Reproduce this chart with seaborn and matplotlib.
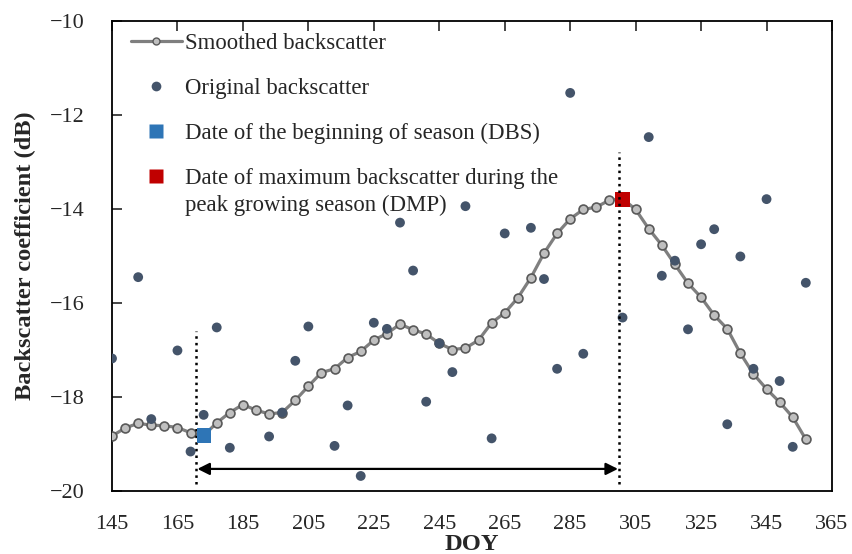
import numpy as np
import pandas as pd
import matplotlib
matplotlib.use("Agg")
import matplotlib.pyplot as plt
from matplotlib.lines import Line2D
import seaborn as sns

# ---------------- data ----------------
smooth_doy = list(range(145, 358, 4))
smooth_db = [-18.83, -18.66, -18.56, -18.60, -18.61, -18.65, -18.76, -18.82,
             -18.55, -18.33, -18.16, -18.28, -18.36, -18.33, -18.07, -17.77,
             -17.48, -17.40, -17.16, -17.03, -16.79, -16.65, -16.45, -16.57,
             -16.66, -16.86, -16.99, -16.96, -16.79, -16.42, -16.21, -15.89,
             -15.46, -14.94, -14.52, -14.21, -14.01, -13.96, -13.81, -13.78,
             -14.01, -14.42, -14.77, -15.18, -15.58, -15.88, -16.26, -16.55,
             -17.07, -17.51, -17.83, -18.11, -18.43, -18.90]

obs_doy = [145, 153, 157, 165, 169, 173, 177, 181, 193, 197, 201, 205, 213,
           217, 221, 225, 229, 233, 237, 241, 245, 249, 253, 261, 265, 273,
           277, 281, 285, 289, 301, 309, 313, 317, 321, 325, 329, 333, 337,
           341, 345, 349, 353, 357]
obs_db = [-17.18, -15.45, -18.47, -17.01, -19.16, -18.38, -16.52, -19.08,
          -18.84, -18.33, -17.23, -16.50, -19.04, -18.18, -19.68, -16.42,
          -16.55, -14.29, -15.31, -18.10, -16.86, -17.47, -13.94, -18.88,
          -14.52, -14.40, -15.49, -17.40, -11.53, -17.08, -16.31, -12.47,
          -15.42, -15.10, -16.56, -14.75, -14.43, -18.58, -15.01, -17.40,
          -13.79, -17.66, -19.06, -15.57]

dbs_doy, dbs_db = 173, -18.82
dmp_doy, dmp_db = 301, -13.80

# annotation lines (season start / peak markers)
dbs_line_doy = 170.8
dmp_line_doy = 299.9
dbs_line_top = -16.6
dmp_line_top = -12.78
line_bottom = -19.85
arrow_db = -19.53

x_ticks = list(range(145, 366, 20))
y_ticks = list(range(-20, -9, 2))

legend_labels = ["Smoothed backscatter", "Original backscatter",
                 "Date of the beginning of season (DBS)",
                 "Date of maximum backscatter during the"]
legend_extra_line = "peak growing season (DMP)"

# ---------------- style ----------------
sns.set_style("ticks")
plt.rcParams["font.family"] = ["Liberation Serif", "DejaVu Serif"]
plt.rcParams["axes.unicode_minus"] = True

c_line = "#7F7F7F"
c_mfill = "#BFBFBF"
c_medge = "#595959"
c_dot = "#44546A"
c_blue = "#2E75B6"
c_red = "#C00000"

fs = 16.4

fig = plt.figure(figsize=(8.53, 5.54), dpi=100)
ax = fig.add_axes([112 / 853, 1 - 491 / 554, 720 / 853, 470 / 554])

df_s = pd.DataFrame({"DOY": smooth_doy, "dB": smooth_db})
df_o = pd.DataFrame({"DOY": obs_doy, "dB": obs_db})

sns.lineplot(data=df_s, x="DOY", y="dB", ax=ax, color=c_line, lw=2.3,
             marker="o", markersize=6.4, markerfacecolor=c_mfill,
             markeredgecolor=c_medge, markeredgewidth=1.2, zorder=3)
sns.scatterplot(data=df_o, x="DOY", y="dB", ax=ax, color=c_dot, s=50,
                edgecolor="none", zorder=4)

# vertical dotted lines and arrow
ax.plot([dbs_line_doy, dbs_line_doy], [line_bottom, dbs_line_top], ls=":",
        color="black", lw=1.8, zorder=5)
ax.plot([dmp_line_doy, dmp_line_doy], [line_bottom, dmp_line_top], ls=":",
        color="black", lw=1.8, zorder=6)
ax.annotate("", xy=(dbs_line_doy + 0.3, arrow_db), xytext=(dmp_line_doy - 0.3, arrow_db),
            arrowprops=dict(arrowstyle="<|-|>", color="black", lw=1.6,
                            mutation_scale=18, shrinkA=0, shrinkB=0))

sns.scatterplot(x=[dbs_doy], y=[dbs_db], ax=ax, marker="s", s=105,
                color=c_blue, edgecolor="none", zorder=6)
sns.scatterplot(x=[dmp_doy], y=[dmp_db], ax=ax, marker="s", s=105,
                color=c_red, edgecolor="none", zorder=5)

ax.set_xlim(145, 365)
ax.set_ylim(-20, -10)
ax.set_xticks(x_ticks)
ax.set_yticks(y_ticks)
ax.tick_params(axis="x", bottom=False, top=True, direction="in", length=7,
               width=1.2, labelbottom=True, labeltop=False, labelsize=16, pad=17)
ax.tick_params(axis="y", left=True, right=False, direction="in", length=7,
               width=1.2, labelsize=16, pad=20)
for sp in ax.spines.values():
    sp.set_visible(True)
    sp.set_linewidth(1.3)
    sp.set_color("black")

ax.set_xlabel("DOY", fontsize=17.6, fontweight="bold")
ax.set_ylabel("Backscatter coefficient (dB)", fontsize=17.6, fontweight="bold")
ax.xaxis.set_label_coords(0.5, -0.092)
ax.yaxis.set_label_coords(-0.105, 0.5)

handles = [
    Line2D([], [], color=c_line, lw=2.3, marker="o", markersize=5,
           markerfacecolor=c_mfill, markeredgecolor=c_medge, markeredgewidth=1.0),
    Line2D([], [], ls="none", marker="o", markersize=7, color=c_dot,
           markeredgecolor="none"),
    Line2D([], [], ls="none", marker="s", markersize=10, color=c_blue,
           markeredgecolor="none"),
    Line2D([], [], ls="none", marker="s", markersize=10, color=c_red,
           markeredgecolor="none"),
]
ax.legend(handles, legend_labels, loc="upper left", bbox_to_anchor=(0.026, 0.9735),
          frameon=False, fontsize=fs, handlelength=2.25, handletextpad=0.13,
          labelspacing=1.04, borderaxespad=0, borderpad=0)
ax.text((185 - 112) / 720, (491 - 205.5) / 470, legend_extra_line, transform=ax.transAxes,
        fontsize=fs, ha="left", va="center")

fig.savefig("out.png", dpi=100)
